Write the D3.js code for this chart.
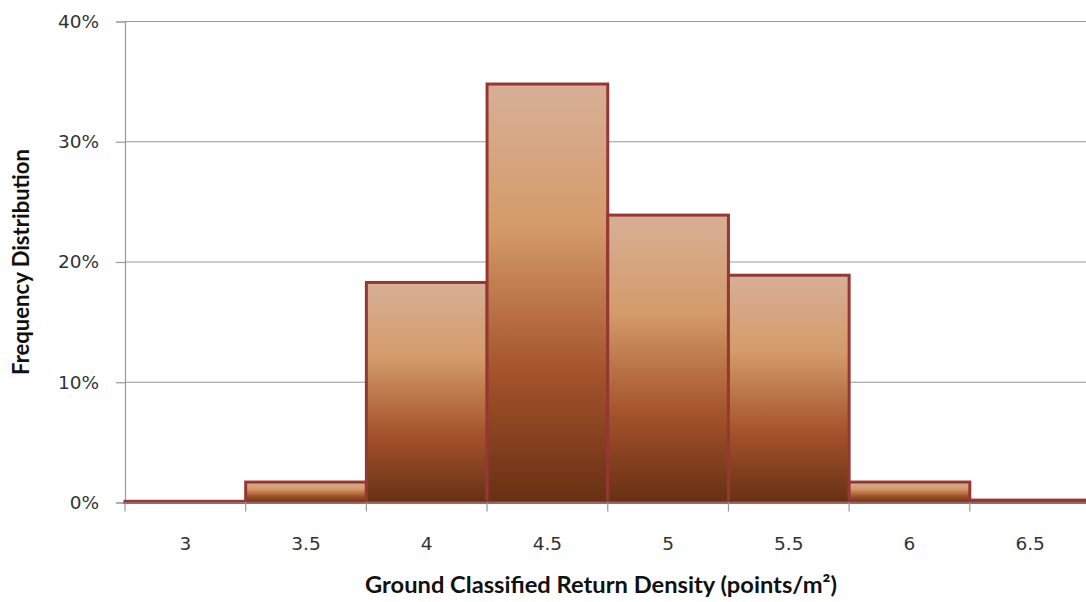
<!DOCTYPE html>
<html><head><meta charset="utf-8">
<script src="https://cdn.jsdelivr.net/npm/d3@7"></script>
<style>body{margin:0;background:#fff}svg{display:block}</style>
</head><body>
<svg id="c" width="1086" height="602"></svg>
<script>
const categories = ["3","3.5","4","4.5","5","5.5","6","6.5"];
const values = [0.001, 0.017, 0.183, 0.348, 0.239, 0.189, 0.017, 0.002];
const yTicks = [0, 0.1, 0.2, 0.3, 0.4];
const xTitle = "Ground Classified Return Density (points/m²)";
const yTitle = "Frequency Distribution";

(function(){
const svg = d3.select("#c");
const pLeft = 125, pRight = 1090.5, pTop = 21.5, pBottom = 502.5;
const tickFont = "'DejaVu Sans', Verdana, sans-serif";

const x = d3.scaleBand().domain(categories).range([pLeft, pRight]).padding(0);
const y = d3.scaleLinear().domain([0, 0.4]).range([pBottom, pTop]);

const defs = svg.append("defs");
const g = defs.append("linearGradient").attr("id","grad").attr("x1",0).attr("y1",0).attr("x2",0).attr("y2",1);
[[0,"#d7af96"],[0.34,"#d49b69"],[0.69,"#a4532a"],[1,"#673014"]].forEach(([o,c])=>g.append("stop").attr("offset",o).attr("stop-color",c));

// gridlines
svg.append("g").selectAll("line").data(yTicks.filter(d=>d>0)).join("line")
  .attr("x1", pLeft).attr("x2", 1086).attr("y1", d=>y(d)).attr("y2", d=>y(d))
  .attr("stroke","#999").attr("stroke-width",1.2);

// y axis
const ya = svg.append("g").attr("transform",`translate(${pLeft},0)`)
  .call(d3.axisLeft(y).tickValues(yTicks).tickFormat(d3.format(".0%")).tickSizeOuter(0).tickSize(9).tickPadding(17));
ya.attr("font-family", tickFont);
ya.select(".domain").attr("stroke","#999").attr("stroke-width",1.2);
ya.selectAll(".tick line").attr("stroke","#999").attr("stroke-width",1.2);
ya.selectAll("text").style("font-family", tickFont).attr("font-size",18.5).attr("fill","#333");

// bars
svg.append("g").selectAll("rect").data(categories).join("rect")
  .attr("x", d=>x(d)).attr("width", x.bandwidth())
  .attr("y", (d,i)=>y(values[i])).attr("height", (d,i)=>pBottom - y(values[i]))
  .attr("fill","url(#grad)").attr("stroke","#973735").attr("stroke-width",3);

// x axis
const xa = svg.append("g").attr("transform",`translate(0,${pBottom})`)
  .call(d3.axisBottom(x).tickSize(0).tickPadding(34));
xa.attr("font-family", tickFont);
xa.select(".domain").attr("stroke","#999").attr("stroke-width",1.2);
xa.selectAll("text").style("font-family", tickFont).attr("font-size",18.5).attr("fill","#333");
// boundary ticks between bands
const bounds = categories.map(c=>x(c)).concat([x(categories[categories.length-1])+x.bandwidth()]);
svg.append("g").selectAll("line").data(bounds).join("line")
  .attr("x1",d=>d).attr("x2",d=>d).attr("y1",pBottom).attr("y2",pBottom+9)
  .attr("stroke","#999").attr("stroke-width",1.2);

// titles
const xt = svg.append("text").attr("x", 601).attr("y", 593).attr("text-anchor","middle")
  .attr("font-family","Lato, 'Open Sans', sans-serif").attr("font-weight","bold").attr("font-size",18).attr("fill","#111")
  .text(xTitle);
const yt = svg.append("text").attr("transform","translate(29,262) rotate(-90)").attr("text-anchor","middle")
  .attr("font-family","Lato, 'Open Sans', sans-serif").attr("font-weight","bold").attr("font-size",18).attr("fill","#111")
  .text(yTitle);
function fit(t, w){ const l = t.node().getComputedTextLength(); t.attr("font-size", 18*w/l); }
fit(xt, 472); fit(yt, 226);
})();
</script>
</body></html>
